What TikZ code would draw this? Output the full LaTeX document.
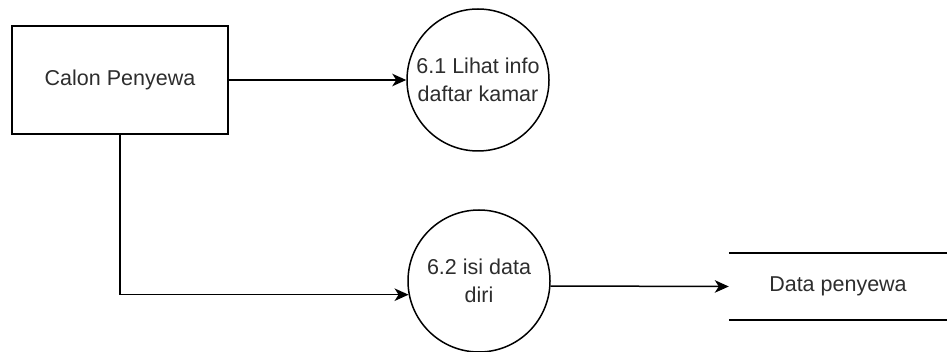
\documentclass[tikz,border=0pt]{standalone}
\usepackage{fontspec}
\setmainfont{Liberation Sans}
\usetikzlibrary{arrows.meta,calc}
\definecolor{txt}{RGB}{45,45,45}
\begin{document}
\begin{tikzpicture}[x=1pt,y=-1pt,
  every node/.style={font=\fontsize{21.5}{28}\selectfont, text=txt, align=center},
  entity/.style={draw, line width=1.5pt, minimum width=216pt, minimum height=108pt, inner sep=0pt},
  process/.style={draw, circle, line width=1.5pt, minimum size=142pt, inner sep=0pt},
  store/.style={minimum width=218pt, minimum height=67pt, inner sep=0pt},
  flow/.style={line width=1.5pt, -{Stealth[length=14pt,width=12.5pt,inset=4pt]}}]
  \useasboundingbox (0,0) rectangle (947,352);

  % external entity
  \node[entity] (cp) at (120,80) {Calon Penyewa};

  % processes
  \node[process] (p1) at (478,80) {6.1 Lihat info\\daftar kamar};
  \node[process] (p2) at (479,281) {6.2 isi data\\diri};

  % data store (open-ended, two horizontal rules)
  \node[store] (ds) at (838,286.5) {Data penyewa};
  \draw[line width=1.5pt] (ds.north west) -- (ds.north east);
  \draw[line width=1.5pt] (ds.south west) -- (ds.south east);

  % data flows
  \draw[flow] (cp.east) -- (p1.west);
  \draw[flow] (cp.south) |- (p2.191);
  \draw[flow] (p2.-4) -- (ds.west);
\end{tikzpicture}
\end{document}
